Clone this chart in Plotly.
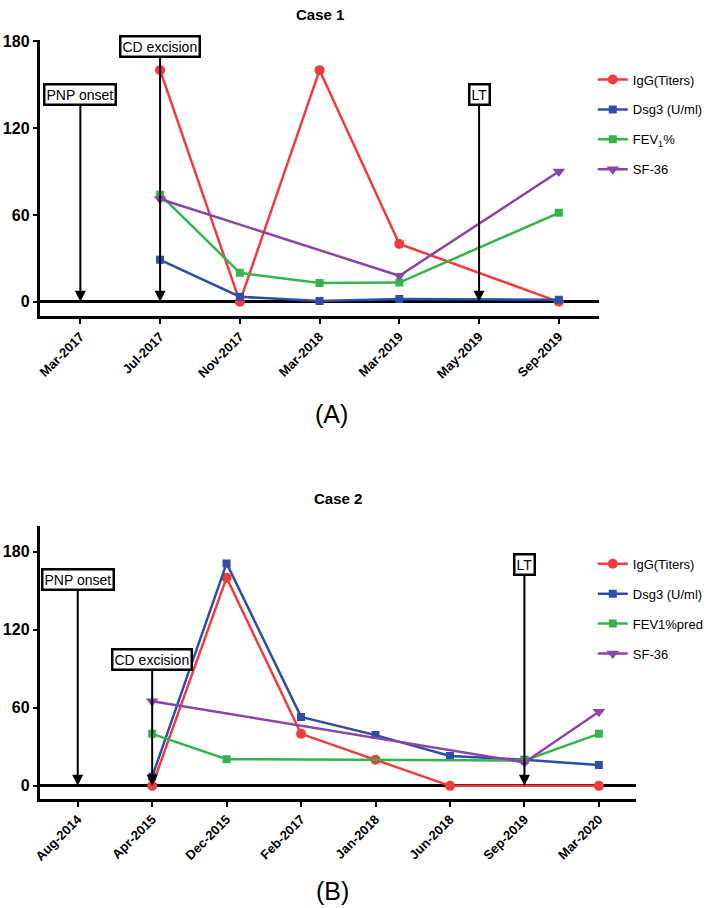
import plotly.graph_objects as go

W, H = 709, 908
FONT = "Arial, Liberation Sans, sans-serif"

# ---------------- data: Case 1 ----------------
cats1 = ["Mar-2017", "Jul-2017", "Nov-2017", "Mar-2018", "Mar-2019", "May-2019", "Sep-2019"]
igg1 = [None, 160, 0, 160, 40, None, 0]
dsg1 = [None, 29, 3.5, 0.5, 2, None, 1.5]
fev1 = [None, 74, 20, 13, 13.3, None, 61.5]
sf1 = [None, 71, None, None, 18, None, 90]
events1 = [("PNP onset", "Mar-2017", 143), ("CD excision", "Jul-2017", 176.5), ("LT", "May-2019", 143)]

# ---------------- data: Case 2 ----------------
cats2 = ["Aug-2014", "Apr-2015", "Dec-2015", "Feb-2017", "Jan-2018", "Jun-2018", "Sep-2019", "Mar-2020"]
igg2 = [None, 0, 160, 40, 20, 0, None, 0]
dsg2 = [None, 7, 171, 53, 39, 23, 20, 16]
fev2 = [None, 40, 20.5, None, None, None, 19.5, 40]
sf2 = [None, 65, None, None, None, None, 18, 57]
events2 = [("PNP onset", "Aug-2014", 158.5), ("CD excision", "Apr-2015", 97), ("LT", "Sep-2019", 170)]

names1 = ["IgG(Titers)", "Dsg3 (U/ml)", "FEV<sub>1</sub>%", "SF-36"]
names2 = ["IgG(Titers)", "Dsg3 (U/ml)", "FEV1%pred", "SF-36"]
yticks = [0, 60, 120, 180]

colors = ["#F03C3C", "#2E4DA7", "#35B44A", "#8B45A6"]
symbols = ["circle", "square", "square", "triangle-down"]
msizes = [10, 8, 8, 11]

fig = go.Figure()


def add_case(cats, series, names, xa, ya, leg):
    for i, (vals, nm) in enumerate(zip(series, names)):
        fig.add_trace(go.Scatter(
            x=cats, y=vals, name=nm, mode="lines+markers",
            connectgaps=True,
            line=dict(color=colors[i], width=2.5),
            marker=dict(symbol=symbols[i], size=msizes[i], color=colors[i]),
            xaxis=xa, yaxis=ya, legend=leg, legendgroup=leg + str(i),
        ))


add_case(cats1, [igg1, dsg1, fev1, sf1], names1, "x", "y", "legend")
add_case(cats2, [igg2, dsg2, fev2, sf2], names2, "x2", "y2", "legend2")

axis_common = dict(
    showline=True, linecolor="black", linewidth=2.5,
    ticks="outside", ticklen=5, tickwidth=2, tickcolor="black",
    showgrid=False, mirror=False,
)

fig.update_layout(
    width=W, height=H,
    margin=dict(l=0, r=0, t=0, b=0),
    paper_bgcolor="white", plot_bgcolor="white",
    font=dict(family=FONT, color="black"),
    showlegend=True,
    xaxis=dict(domain=[33 / W, 600 / W], anchor="y", type="category",
               range=[-0.5, len(cats1) - 0.5], tickangle=-45,
               tickfont=dict(size=13, weight="bold"),
               **axis_common),
    yaxis=dict(domain=[(H - 311.7) / H, (H - 33) / H], anchor="x",
               range=[-10, 181], tickvals=yticks,
               tickfont=dict(size=16, weight="bold"),
               zeroline=True, zerolinecolor="black", zerolinewidth=2.5,
               **axis_common),
    xaxis2=dict(domain=[33 / W, 638 / W], anchor="y2", type="category",
                range=[-0.5, len(cats2) - 0.5], tickangle=-45,
                tickfont=dict(size=13, weight="bold"),
                **axis_common),
    yaxis2=dict(domain=[(H - 798) / H, (H - 522.7) / H], anchor="x2",
                range=[-10, 200], tickvals=yticks,
                tickfont=dict(size=16, weight="bold"),
                zeroline=True, zerolinecolor="black", zerolinewidth=2.5,
                **axis_common),
    legend=dict(x=594 / W, xanchor="left", y=1 - 58 / H, yanchor="top",
                font=dict(size=13), bgcolor="rgba(0,0,0,0)",
                tracegroupgap=10, itemwidth=30),
    legend2=dict(x=594 / W, xanchor="left", y=1 - 546 / H, yanchor="top",
                 font=dict(size=13), bgcolor="rgba(0,0,0,0)",
                 tracegroupgap=10, itemwidth=30),
)

anns = []
for (label, cat, yv), (xr, yr) in [(e, ("x", "y")) for e in events1] + [(e, ("x2", "y2")) for e in events2]:
    anns.append(dict(
        x=cat, y=0, xref=xr, yref=yr,
        ax=cat, ay=yv, axref=xr, ayref=yr,
        text=label, showarrow=True,
        arrowhead=2, arrowsize=1.1, arrowwidth=2, arrowcolor="black",
        standoff=0, startstandoff=0,
        font=dict(size=14, color="black"),
        bgcolor="white", bordercolor="black", borderwidth=2.5, borderpad=1,
    ))

anns += [
    dict(text="<b>Case 1</b>", x=316.5 / W, y=1 - 8 / H, xref="paper", yref="paper",
         showarrow=False, font=dict(size=15), xanchor="center", yanchor="middle"),
    dict(text="<b>Case 2</b>", x=335.5 / W, y=1 - 495 / H, xref="paper", yref="paper",
         showarrow=False, font=dict(size=15), xanchor="center", yanchor="middle"),
    dict(text="(A)", x=329 / W, y=1 - 410 / H, xref="paper", yref="paper",
         showarrow=False, font=dict(size=25), xanchor="center", yanchor="middle"),
    dict(text="(B)", x=330 / W, y=1 - 891 / H, xref="paper", yref="paper",
         showarrow=False, font=dict(size=25), xanchor="center", yanchor="middle"),
]
fig.update_layout(annotations=anns)

fig.write_html(
    "out.html",
    config={"displayModeBar": False},
    post_script="document.body.style.margin='0';document.body.style.overflow='hidden';",
)
